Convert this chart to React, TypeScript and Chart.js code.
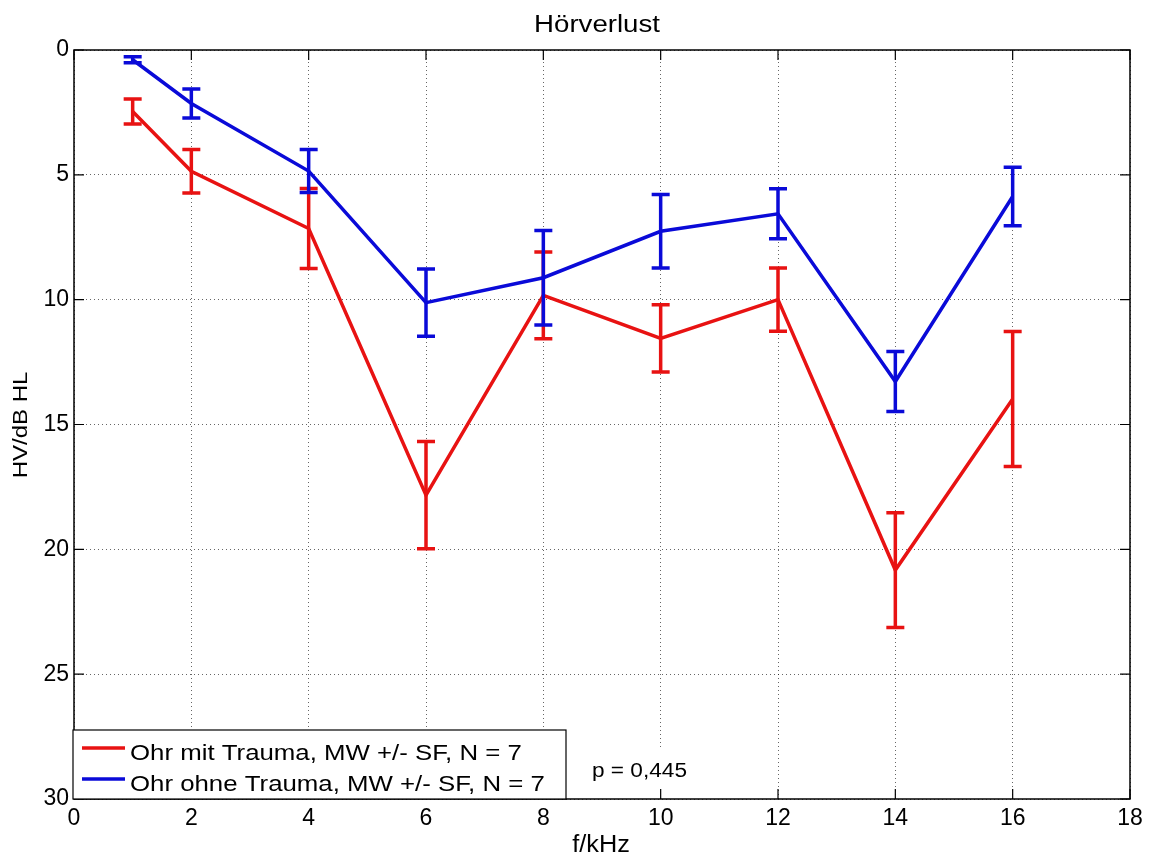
import React, { useEffect, useRef } from "react";
import { Chart, registerables } from "chart.js";

Chart.register(...registerables);

const freqs = [1, 2, 4, 6, 8, 10, 12, 14, 16];
const traumaMean = [2.46, 4.86, 7.15, 17.83, 9.83, 11.55, 10.0, 20.83, 13.98];
const traumaErr = [0.5, 0.87, 1.6, 2.15, 1.74, 1.35, 1.27, 2.3, 2.7];
const noTraumaMean = [0.39, 2.14, 4.85, 10.12, 9.12, 7.26, 6.56, 13.28, 5.87];
const noTraumaErr = [0.12, 0.58, 0.86, 1.35, 1.89, 1.47, 1.0, 1.2, 1.17];

const xTicks = [0, 2, 4, 6, 8, 10, 12, 14, 16, 18];
const yTicks = [0, 5, 10, 15, 20, 25, 30];

const titleText = "Hörverlust";
const xLabel = "f/kHz";
const yLabel = "HV/dB HL";
const legendLabels = [
  "Ohr mit Trauma, MW +/- SF, N = 7",
  "Ohr ohne Trauma, MW +/- SF, N = 7",
];
const pText = "p = 0,445";

const RED = "#e81212";
const BLUE = "#0a0ad8";
const FONT = '"Liberation Sans", Arial, Helvetica, sans-serif';

function drawText(
  ctx: CanvasRenderingContext2D,
  text: string,
  x: number,
  y: number,
  size: number,
  sx: number,
  align: CanvasTextAlign,
  rot = 0
) {
  ctx.save();
  ctx.font = `${size}px ${FONT}`;
  ctx.fillStyle = "#000";
  ctx.textAlign = align;
  ctx.textBaseline = "alphabetic";
  ctx.translate(x, y);
  if (rot) ctx.rotate(rot);
  ctx.scale(sx, 1);
  ctx.fillText(text, 0, 0);
  ctx.restore();
}

const errorBarPlugin = {
  id: "errorBars",
  afterDatasetDraw(chart: any, args: any) {
    const ds = chart.data.datasets[args.index];
    const errs: number[] = ds.errors;
    if (!errs) return;
    const ctx = chart.ctx as CanvasRenderingContext2D;
    const xs = chart.scales.x;
    const ys = chart.scales.y;
    ctx.save();
    ctx.strokeStyle = ds.borderColor;
    ctx.lineWidth = 3.5;
    ctx.lineCap = "butt";
    ds.data.forEach((p: any, i: number) => {
      const px = xs.getPixelForValue(p.x);
      const yTop = ys.getPixelForValue(p.y - errs[i]);
      const yBot = ys.getPixelForValue(p.y + errs[i]);
      ctx.beginPath();
      ctx.moveTo(px, yTop);
      ctx.lineTo(px, yBot);
      ctx.moveTo(px - 9, yTop);
      ctx.lineTo(px + 9, yTop);
      ctx.moveTo(px - 9, yBot);
      ctx.lineTo(px + 9, yBot);
      ctx.stroke();
    });
    ctx.restore();
  },
};

const decorPlugin = {
  id: "decor",
  afterDraw(chart: any) {
    const ctx = chart.ctx as CanvasRenderingContext2D;
    const { left, right, top, bottom } = chart.chartArea;
    const xs = chart.scales.x;
    const ys = chart.scales.y;

    // p-value annotation with white background
    ctx.save();
    ctx.fillStyle = "#fff";
    ctx.fillRect(585, 748, 110, 50);
    ctx.restore();
    drawText(ctx, pText, 592, 777, 19.5, 1.16, "left");

    // axes box and inner ticks
    ctx.save();
    ctx.strokeStyle = "#000";
    ctx.lineWidth = 1.5;
    ctx.strokeRect(left, top, right - left, bottom - top);
    ctx.lineWidth = 1.2;
    ctx.beginPath();
    xTicks.forEach((v) => {
      const px = xs.getPixelForValue(v);
      ctx.moveTo(px, bottom);
      ctx.lineTo(px, bottom - 10);
      ctx.moveTo(px, top);
      ctx.lineTo(px, top + 10);
    });
    yTicks.forEach((v) => {
      const py = ys.getPixelForValue(v);
      ctx.moveTo(left, py);
      ctx.lineTo(left + 10, py);
      ctx.moveTo(right, py);
      ctx.lineTo(right - 10, py);
    });
    ctx.stroke();
    ctx.restore();

    // legend
    const lx = 73;
    const ly = 730;
    const lw = 493;
    const lh = 69;
    ctx.save();
    ctx.fillStyle = "#fff";
    ctx.fillRect(lx, ly, lw, lh);
    ctx.strokeStyle = "#000";
    ctx.lineWidth = 1.2;
    ctx.strokeRect(lx, ly, lw, lh);
    const colors = [RED, BLUE];
    const lineY = [748, 779];
    const baseY = [759.5, 790.5];
    colors.forEach((c, i) => {
      ctx.strokeStyle = c;
      ctx.lineWidth = 3.5;
      ctx.beginPath();
      ctx.moveTo(82, lineY[i]);
      ctx.lineTo(125, lineY[i]);
      ctx.stroke();
    });
    ctx.restore();
    legendLabels.forEach((t, i) => drawText(ctx, t, 130, baseY[i], 21.5, 1.2, "left"));

    // title and axis labels
    drawText(ctx, titleText, 597, 31.7, 23, 1.2, "center");
    drawText(ctx, xLabel, 601, 852, 23, 1.1, "center");
    drawText(ctx, yLabel, 27, 425, 20, 1.2, "center", -Math.PI / 2);
  },
};

export default function App() {
  const ref = useRef<HTMLCanvasElement | null>(null);

  useEffect(() => {
    document.body.style.margin = "0";
    const canvas = ref.current;
    if (!canvas) return;
    const gridColor = "rgba(0,0,0,0.6)";
    const chart = new Chart(canvas, {
      type: "line",
      data: {
        datasets: [
          {
            label: legendLabels[0],
            data: freqs.map((f, i) => ({ x: f, y: traumaMean[i] })),
            errors: traumaErr,
            borderColor: RED,
            backgroundColor: RED,
            borderWidth: 3.5,
            pointRadius: 0,
            tension: 0,
            order: 1,
          } as any,
          {
            label: legendLabels[1],
            data: freqs.map((f, i) => ({ x: f, y: noTraumaMean[i] })),
            errors: noTraumaErr,
            borderColor: BLUE,
            backgroundColor: BLUE,
            borderWidth: 3.5,
            pointRadius: 0,
            tension: 0,
            order: 0,
          } as any,
        ],
      },
      options: {
        animation: false,
        responsive: false,
        devicePixelRatio: 1,
        layout: { padding: { top: 50, right: 19, left: 0, bottom: 0 } },
        plugins: {
          legend: { display: false },
          title: { display: false },
          tooltip: { enabled: false },
        },
        scales: {
          x: {
            type: "linear",
            min: 0,
            max: 18,
            afterBuildTicks: (s: any) => {
              s.ticks = xTicks.map((v) => ({ value: v }));
            },
            afterFit: (s: any) => {
              s.height = 57;
            },
            ticks: {
              color: "#000",
              font: { family: FONT, size: 23 },
              padding: 6,
              maxRotation: 0,
              autoSkip: false,
            },
            grid: {
              color: gridColor,
              lineWidth: 1,
              drawTicks: false,
            },
            border: { display: false, dash: [1, 3] },
          },
          y: {
            type: "linear",
            reverse: true,
            min: 0,
            max: 30,
            afterBuildTicks: (s: any) => {
              s.ticks = yTicks.map((v) => ({ value: v }));
            },
            afterFit: (s: any) => {
              s.width = 74;
            },
            ticks: {
              color: "#000",
              font: { family: FONT, size: 23 },
              padding: 5,
              autoSkip: false,
            },
            grid: {
              color: gridColor,
              lineWidth: 1,
              drawTicks: false,
            },
            border: { display: false, dash: [1, 3] },
          },
        },
      } as any,
      plugins: [errorBarPlugin, decorPlugin],
    });
    return () => chart.destroy();
  }, []);

  return (
    <div style={{ position: "absolute", left: 0, top: 0, width: 1149, height: 856, background: "#fff" }}>
      <canvas ref={ref} width={1149} height={856} style={{ display: "block" }} />
    </div>
  );
}
